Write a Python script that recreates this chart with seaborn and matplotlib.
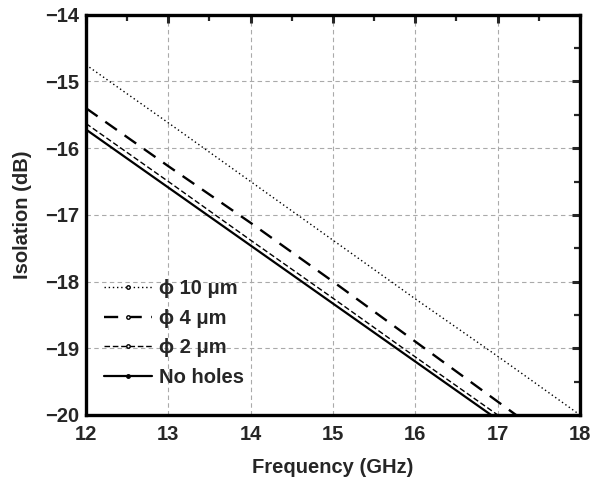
import numpy as np
import pandas as pd
import matplotlib
matplotlib.use("Agg")
import matplotlib.pyplot as plt
import seaborn as sns
from matplotlib.lines import Line2D
from matplotlib.ticker import MultipleLocator

freq = [12, 13, 14, 15, 16, 17, 18]
iso_10um = [-14.75, -15.62, -16.50, -17.38, -18.26, -19.12, -20.00]
iso_4um = [-15.40, -16.27, -17.12, -18.00, -18.90, -19.80, -20.70]
iso_2um = [-15.63, -16.50, -17.38, -18.25, -19.13, -20.00, -20.88]
iso_none = [-15.72, -16.59, -17.46, -18.33, -19.20, -20.07, -20.94]
labels = ["\u03d5 10 \u03bcm", "\u03d5 4 \u03bcm", "\u03d5 2 \u03bcm", "No holes"]

sns.set_style("white")
plt.rcParams['font.family'] = ['Liberation Sans', 'DejaVu Sans']
plt.rcParams['font.weight'] = 'bold'

FS = 14.5

fig = plt.figure(figsize=(5.93, 4.78), dpi=100)
ax = fig.add_axes([0.145, 0.132, 0.833, 0.837])

series = [iso_10um, iso_4um, iso_2um, iso_none]
styles = [dict(lw=1.0, ls=(0, (1, 2))),
          dict(lw=1.7, ls=(0, (6, 4))),
          dict(lw=1.0, ls=(0, (4, 2))),
          dict(lw=1.6, ls='-')]
for vals, lab, st in zip(series, labels, styles):
    df = pd.DataFrame({"Frequency": freq, "Isolation": vals})
    sns.lineplot(data=df, x="Frequency", y="Isolation", ax=ax, color='black',
                 linewidth=st['lw'], linestyle=st['ls'], label=lab, legend=False)

ax.set_xlim(12, 18)
ax.set_ylim(-20, -14)
ax.xaxis.set_major_locator(MultipleLocator(1))
ax.xaxis.set_minor_locator(MultipleLocator(0.5))
ax.yaxis.set_major_locator(MultipleLocator(1))
ax.yaxis.set_minor_locator(MultipleLocator(0.5))
ax.grid(True, which='major', color='#aaaaaa', linestyle=(0, (4, 3)), linewidth=0.8)
ax.tick_params(which='major', direction='in', length=6, width=2.2,
               top=True, right=True, labelsize=FS)
ax.tick_params(axis='y', which='major', pad=5)
ax.tick_params(axis='x', which='major', pad=7)
ax.tick_params(which='minor', direction='in', length=4, width=1.6,
               top=True, right=True)
for t in ax.get_xticklabels() + ax.get_yticklabels():
    t.set_fontweight('bold')
for s in ax.spines.values():
    s.set_linewidth(2.4)
    s.set_color('black')

ax.set_xlabel("Frequency (GHz)", fontsize=FS, fontweight='bold', labelpad=10)
ax.set_ylabel("Isolation (dB)", fontsize=FS, fontweight='bold', labelpad=9)

handles = [
    Line2D([], [], color='black', lw=1.0, ls=(0, (1, 2)), marker='o', markersize=2.5, markerfacecolor='white'),
    Line2D([], [], color='black', lw=1.7, ls=(0, (6, 4)), marker='o', markersize=2.5, markerfacecolor='white'),
    Line2D([], [], color='black', lw=1.0, ls=(0, (4, 2)), marker='o', markersize=2.5, markerfacecolor='white'),
    Line2D([], [], color='black', lw=1.6, ls='-', marker='o', markersize=2.5),
]
leg = ax.legend(handles, labels, loc='lower left', bbox_to_anchor=(0.0, 0.025),
                frameon=False, prop={'size': FS, 'weight': 'bold'},
                handlelength=2.4, handletextpad=0.35, labelspacing=0.52)

fig.savefig("out.png", dpi=100)
